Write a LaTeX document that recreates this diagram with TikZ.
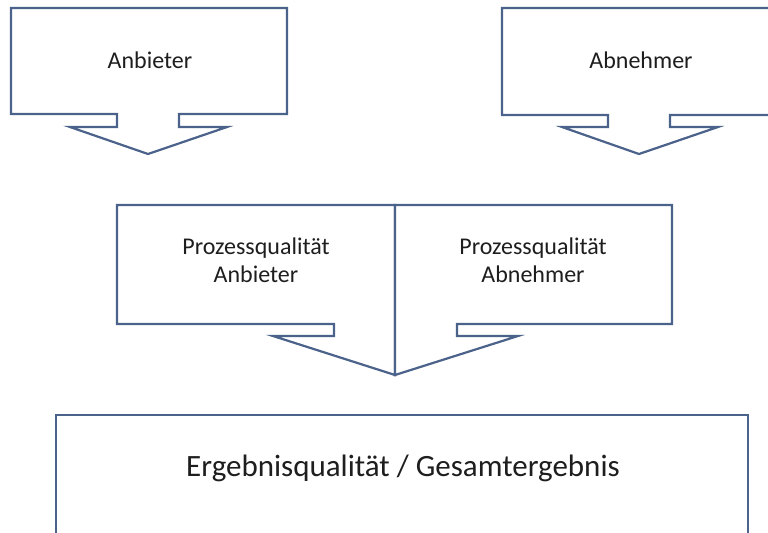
\documentclass[tikz,border=0pt]{standalone}
\usepackage{fontspec}
\setmainfont{Carlito}
\definecolor{boxline}{RGB}{75,98,138}
\definecolor{boxtext}{RGB}{30,30,30}
\tikzset{
  callout/.style={draw=boxline, line width=1.1pt, line join=miter, fill=white},
  label/.style={text=boxtext, font=\fontsize{12}{14}\selectfont, align=center},
  biglabel/.style={text=boxtext, font=\fontsize{15.5}{18}\selectfont}
}
\begin{document}
\begin{tikzpicture}[x=0.5pt,y=-0.5pt]
    \useasboundingbox (0,0) rectangle (768,532);
    \clip (0,0) rectangle (768,532);
    % Draw Anbieter box
    \draw[callout] (11,8) -- (287,8) -- (287,114) -- (179,114) -- (179,127)
                   -- (227,127) -- (148,154) -- (70,127) -- (117,127)
                   -- (117,114) -- (11,114) -- cycle;
    % Draw Abnehmer box
    \draw[callout] (502,8) -- (790,8) -- (790,115) -- (670,115) -- (670,127)
                   -- (718,127) -- (639,154) -- (562,127) -- (608,127)
                   -- (608,115) -- (502,115) -- cycle;
    % Draw process quality boxes
    \draw[callout] (395,205) -- (117,205) -- (117,324) -- (334,324) -- (334,336)
                   -- (273,336) -- (395,375) -- cycle;
    \draw[callout] (395,205) -- (672,205) -- (672,324) -- (457,324) -- (457,336)
                   -- (518,336) -- (395,375) -- cycle;
    % Draw result box
    \draw[callout] (56,415) rectangle (748,560);

    \node[label] (anbieter) at (150,60) {Anbieter};
    \node[label] (abnehmer) at (641,60) {Abnehmer};
    \node[label] (prozessA) at (256,260) {Prozessqualität\\Anbieter};
    \node[label] (prozessB) at (533,260) {Prozessqualität\\Abnehmer};
    \node[biglabel] (ergebnis) at (403,468) {Ergebnisqualität / Gesamtergebnis};

\end{tikzpicture}
\end{document}
